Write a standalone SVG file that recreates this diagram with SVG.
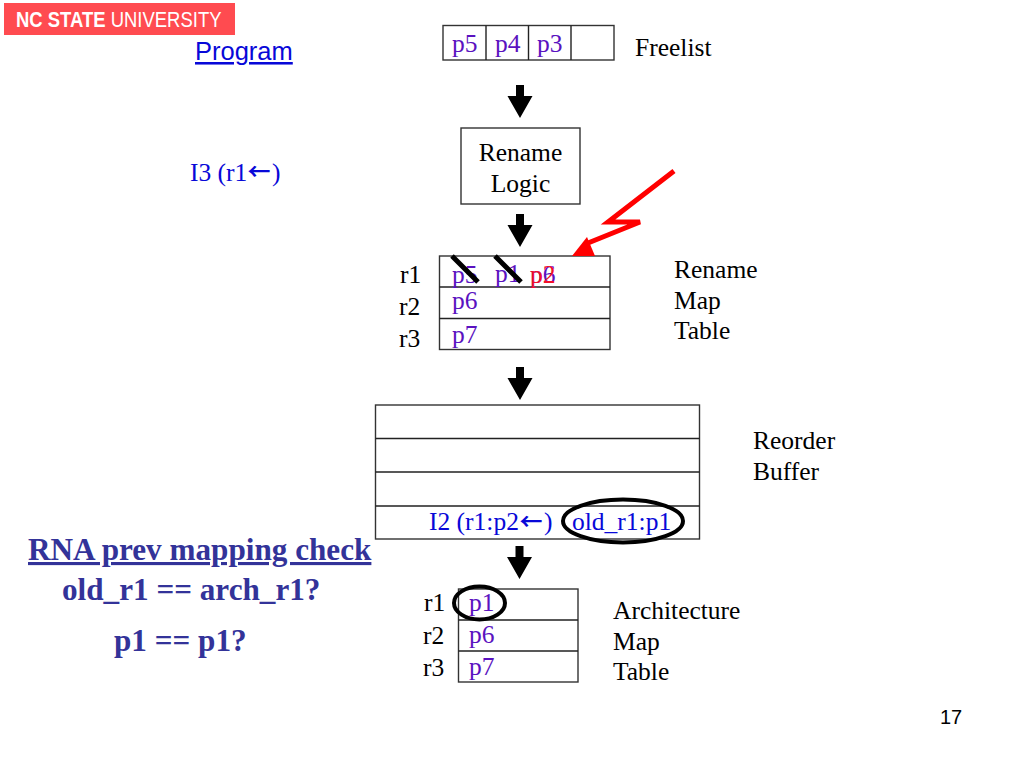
<svg xmlns="http://www.w3.org/2000/svg" width="1024" height="768" viewBox="0 0 1024 768">
<style>
text{font-family:"Liberation Serif","Times New Roman",serif;font-size:25.5px;fill:#000}
.p{fill:#5a12c0}
.b{fill:#0808d8}
.a{font-family:"Noto Sans CJK SC",sans-serif;font-size:23px;font-weight:bold}
.h{font-weight:bold;fill:#333399;font-size:31.200px}
.s{font-family:"Liberation Sans",Arial,sans-serif}
.u{text-decoration:underline;text-decoration-skip-ink:none}
.box{fill:#fff;stroke:#333;stroke-width:1.4}
.ln{stroke:#222;stroke-width:1.4;fill:none}
.ring{fill:none;stroke:#000;stroke-width:4}
.strike{stroke:#000;stroke-width:5;fill:none}
</style>
<defs>
<path id="down" d="M-4 0H4V11H12.500L0 33-12.500 11H-4Z" fill="#000"/>
</defs>
<rect width="1024" height="768" fill="#fff"/>
<g id="logo"><rect x="4" y="3" width="231" height="32" fill="#ff4b50"/>
<text transform="translate(16 26.500) scale(.84 1)" class="s" style="font-size:22px;font-weight:bold;fill:#fff">NC STATE <tspan style="font-weight:normal">UNIVERSITY</tspan></text></g>
<g id="program"><text x="195" y="60" class="s b u" style="text-underline-offset:1.500px;text-decoration-thickness:1.500px">Program</text></g>
<g id="i3"><text x="190" y="181" class="b">I3 (r1</text><text x="247.500" y="180" class="b a">←</text><text x="272" y="181" class="b">)</text></g>
<g id="freelist">
<rect class="box" x="443" y="25.500" width="171" height="34.500"/>
<path class="ln" d="M486 25.500V60M528.500 25.500V60M571 25.500V60"/>
<text class="p" x="452" y="52">p5</text><text class="p" x="495" y="52">p4</text><text class="p" x="537" y="52">p3</text>
<text x="635" y="56">Freelist</text></g>
<g id="rename-logic"><rect class="box" x="461" y="128" width="119" height="76"/>
<text x="520.500" y="161" text-anchor="middle">Rename</text><text x="520.500" y="192" text-anchor="middle">Logic</text></g>
<g id="rename-map-table">
<rect class="box" x="439.500" y="256" width="170.500" height="93.500"/>
<path class="ln" d="M439.500 287H610M439.500 318.500H610"/>
<text x="400" y="283">r1</text><text x="399" y="315">r2</text><text x="399" y="347">r3</text>
<text class="p" x="452" y="283">p5</text><text class="p" x="495" y="282">p1</text><text class="p" x="530" y="283">p6</text><text x="530" y="283" style="fill:#f0102a">p2</text>
<text class="p" x="452" y="309">p6</text><text class="p" x="452" y="343">p7</text>
<path class="strike" d="M452 256L478 282M495 256L521 282"/>
<text x="674" y="278">Rename</text><text x="674" y="309">Map</text><text x="674" y="339">Table</text></g>
<g id="reorder-buffer">
<rect class="box" x="375.500" y="405" width="324" height="134"/>
<path class="ln" d="M375.500 438.500H699.500M375.500 472H699.500M375.500 506H699.500"/>
<text class="b" x="429" y="530">I2 (r1:p2</text><text class="b a" x="519.500" y="530">←</text><text class="b" x="544" y="530">)</text>
<text class="b" x="572" y="530">old_r1:p1</text>
<ellipse class="ring" cx="623" cy="521" rx="60" ry="21.500"/>
<text x="753" y="449">Reorder</text><text x="753" y="480">Buffer</text></g>
<g id="arch-map-table">
<rect class="box" x="458.500" y="589" width="119.500" height="93"/>
<path class="ln" d="M458.500 620H578M458.500 651H578"/>
<text x="424" y="611">r1</text><text x="423" y="644">r2</text><text x="423" y="676">r3</text>
<text class="p" x="469" y="611">p1</text><text class="p" x="469" y="643">p6</text><text class="p" x="469" y="675">p7</text>
<ellipse class="ring" cx="479.500" cy="603" rx="25.500" ry="16.500"/>
<text x="613" y="619">Architecture</text><text x="613" y="650">Map</text><text x="613" y="680">Table</text></g>
<g id="rna-check">
<text class="h u" x="28" y="560" style="text-underline-offset:4px;text-decoration-thickness:3px">RNA prev mapping check</text>
<text class="h" x="62" y="600">old_r1 == arch_r1?</text>
<text class="h" x="114" y="651">p1 == p1?</text></g>
<g id="page-number"><text x="940" y="724" class="s" style="font-size:20px">17</text></g>
<g id="connectors">
<use href="#down" x="520" y="85"/><use href="#down" x="520" y="214"/><use href="#down" x="520" y="367"/><use href="#down" x="519.500" y="546"/>
<path d="M674 171L608 222H640L588 243" fill="none" stroke="#f00" stroke-width="5"/>
<path d="M572 256L587 237L595 256Z" fill="#f00"/>
</g>
</svg>
